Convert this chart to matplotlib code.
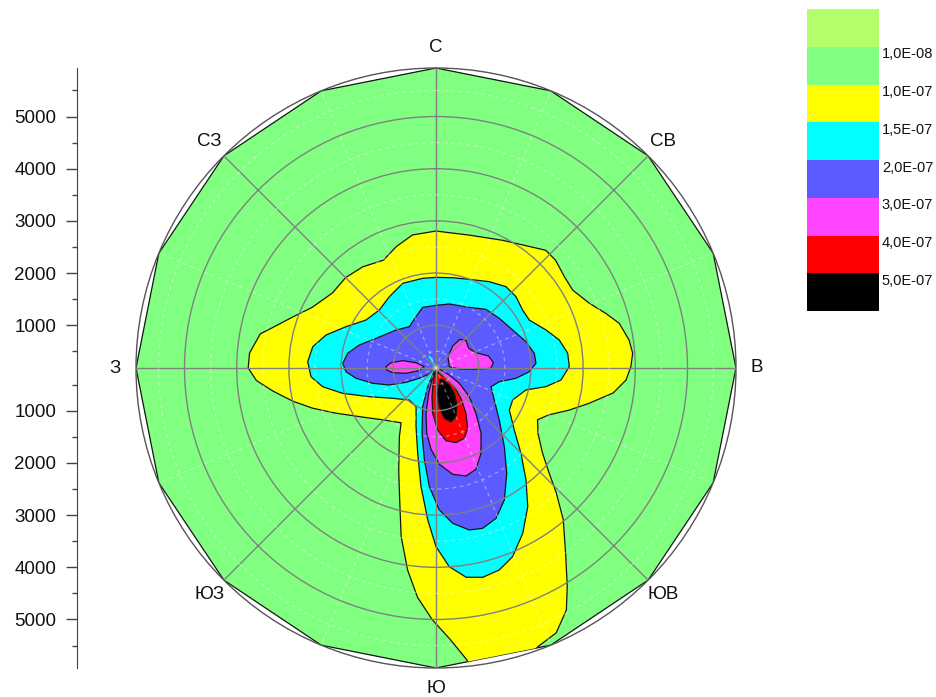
import numpy as np
import matplotlib
matplotlib.use("Agg")
import matplotlib.pyplot as plt
import matplotlib.transforms as mtransforms
from matplotlib.colors import ListedColormap, BoundaryNorm
from matplotlib.cm import ScalarMappable

plt.rcParams['font.family'] = ['Liberation Sans', 'DejaVu Sans']

# ---------------- data ----------------
LEVELS = [1e-8, 1e-7, 1.5e-7, 2e-7, 3e-7, 4e-7, 5e-7]
LEVEL_LABELS = ['1,0E-08', '1,0E-07', '1,5E-07', '2,0E-07', '3,0E-07', '4,0E-07', '5,0E-07']
LEVEL_COLORS = ['#B3FF6B', '#80FF80', '#FFFF00', '#00FFFF', '#5B5BFF', '#FF45FF', '#FF0000', '#000000']

DIRECTIONS_DEG = [0, 45, 90, 135, 180, 225, 270, 315]
DIRECTION_LABELS = ['С', 'СВ', 'В', 'ЮВ', 'Ю', 'ЮЗ', 'З', 'СЗ']
MINOR_DIRECTIONS_DEG = [22.5, 67.5, 112.5, 157.5, 202.5, 247.5, 292.5, 337.5]
RUMBS_DEG = [0, 22.5, 45, 67.5, 90, 112.5, 135, 157.5,
             180, 202.5, 225, 247.5, 270, 292.5, 315, 337.5]

R_TICKS = [1000, 2000, 3000, 4000, 5000]
R_MINOR = [500, 1500, 2500, 3500, 4500, 5500]
R_MIN, R_MAX = 180, 5930

# isoline 1,0E-07 (outer edge of yellow zone): direction (deg), distance (m)
iso100_theta = [0, 14, 27.5, 43, 48, 54.6, 60.3, 67.1, 72.2, 76.3, 81.8, 85.7, 89.6, 93.6,
                98, 103, 107.5, 112.6, 117, 122.6, 128.5, 133, 136, 140, 145, 149, 151.7,
                155.6, 160, 166, 172, 174, 177, 180.8, 184.6, 188, 191.7, 195, 200, 208,
                212.5, 225.6, 236, 245.8, 252, 257, 262, 266, 270, 274.6, 281, 284, 289.7,
                296, 306, 315, 324, 334, 342, 350]
iso100_r = [2805, 2805, 2940, 3265, 3265, 3200, 3195, 3370, 3600, 3795, 3920, 3960, 3915, 3830,
            3610, 3190, 2860, 2520, 2365, 2500, 2785, 3150, 3495, 3975, 4510, 5065, 5450,
            5755, 5870, 6300, 6300, 5800, 5390, 5010, 4590, 4090, 3475, 2860, 2270, 1675,
            1425, 1600, 1865, 2290, 2670, 3000, 3340, 3630, 3780, 3765, 3610, 3400, 3090,
            2825, 2630, 2630, 2575, 2480, 2630, 2770]

# isoline 1,5E-07 (outer edge of cyan zone)
iso150_theta = [0, 10.5, 20.6, 31.7, 40.7, 48.3, 56.2, 62.8, 70.9, 77.2, 83.6, 89.4, 95.5,
                99.6, 103.7, 112.6, 119.8, 128.4, 135.1, 141.2, 146.5, 152.3, 157.9, 162.6,
                167.4, 171.8, 176.2, 180, 183.1, 187.2, 192.1, 198.8, 207.3, 219.8, 235,
                246.7, 254.8, 260.6, 266, 272.8, 279.8, 286.7, 294.7, 304.4, 315.7, 326.8,
                338.5, 351.6]
iso150_r = [1917, 1940, 1995, 2125, 2236, 2234, 2178, 2190, 2410, 2603, 2720, 2735, 2586,
            2318, 1955, 1772, 1800, 2094, 2487, 2933, 3366, 3757, 4083, 4236,
            4290, 4232, 3995, 3604, 3096, 2472, 1853, 1368, 1013, 979, 1193,
            1571, 2033, 2380, 2581, 2642, 2577, 2380, 2077, 1807, 1734, 1813,
            1924, 1918]

# isoline 2,0E-07 (outer edge of blue zone)
iso200_theta = [0, 11.7, 28.8, 40.4, 51.9, 63.6, 73.7, 81.5, 87.3, 92.3, 97.3, 102.2, 108.8,
                118.8, 129.4, 139, 146.1, 152.6, 158.2, 163.8, 168.4, 173.9, 178.7, 183.2,
                187.2, 192.1, 199, 204, 205.5, 210, 222, 228, 238.3, 244.5, 250, 256.4,
                262.7, 267.6, 272.9, 279.5, 286.7, 296.3, 313.5, 327.1, 338.7, 347.6]
iso200_r = [1381, 1433, 1506, 1657, 1722, 1820, 1977, 2085, 2098, 1970, 1726, 1422, 1293,
            1454, 1750, 2176, 2611, 3027, 3282, 3380, 3349, 3173, 2901, 2458,
            1956, 1460, 964, 573, 328, 195, 195, 352, 555, 816, 1132, 1427,
            1726, 1906, 1970, 1895, 1715, 1462, 1237, 1123, 1236, 1370]

# small 1,5E-07 sliver next to the source (NNW)
sliver150_theta = [318, 326, 336, 345]
sliver150_r = [190, 460, 420, 190]

# isoline 3,0E-07: plume towards S-SE and two side spots
plume300_theta = [205, 200.8, 196.1, 192.4, 188.1, 183.5, 178, 171.1, 164.5, 158.5, 152.2,
                  145.4, 138.6, 130.8, 123.3, 117.8, 111.8, 108]
plume300_r = [180, 358, 686, 1069, 1445, 1741, 2027, 2242, 2328, 2267, 2029,
              1700, 1337, 1023, 715, 467, 283, 180]
spotW300_theta = [271.5, 276.7, 282.4, 284.8, 276.3, 261.1, 260, 263.8, 267.7]
spotW300_r = [1138, 1048, 833, 577, 406, 515, 764, 1015, 1125]
spotNE300_theta = [84.3, 46.7, 37.2, 39.9, 47.7, 58.9, 69, 77.2, 84.7, 90.3, 91.9, 92.5]
spotNE300_r = [437, 496, 709, 897, 958, 912, 1000, 1215, 1284, 1234, 946, 626]

# isoline 4,0E-07
plume400_theta = [195, 192.5, 187.9, 184.2, 178.5, 172.2, 165, 158.1, 152.3, 146.5, 140.5,
                  135.6, 135.8, 148, 160]
plume400_r = [180, 416, 736, 1050, 1368, 1586, 1661, 1632, 1485, 1220, 933,
              680, 456, 300, 200]

# isoline 5,0E-07
plume500_theta = [160.5, 176.2, 175.1, 170.6, 164.5, 157.7, 150.4, 144.1, 142, 148.7]
plume500_r = [410, 667, 923, 1157, 1253, 1188, 994, 780, 594, 449]

# ---------------- figure ----------------
W, H = 937, 697
fig = plt.figure(figsize=(W / 100, H / 100), dpi=100)

ax = fig.add_axes([136 / W, 29 / H, 600 / W, 600 / H], projection='polar')
ax.set_theta_zero_location('N')
ax.set_theta_direction(-1)

EDGE = '#151515'
LW = 0.9

domain = ax.fill(np.deg2rad(RUMBS_DEG), [R_MAX] * len(RUMBS_DEG),
                 facecolor=LEVEL_COLORS[1], edgecolor=EDGE, lw=LW, zorder=1.0)[0]


def zone(theta_deg, r, color, z):
    for p in ax.fill(np.deg2rad(theta_deg), r, facecolor=color,
                     edgecolor=EDGE, lw=LW, zorder=z):
        p.set_clip_path(domain)


zone(iso100_theta, iso100_r, LEVEL_COLORS[2], 1.1)
zone(iso150_theta, iso150_r, LEVEL_COLORS[3], 1.2)
zone(iso200_theta, iso200_r, LEVEL_COLORS[4], 1.3)
for p in ax.fill(np.deg2rad(sliver150_theta), sliver150_r, facecolor=LEVEL_COLORS[3],
                 edgecolor='none', zorder=1.35):
    p.set_clip_path(domain)
zone(plume300_theta, plume300_r, LEVEL_COLORS[5], 1.4)
zone(spotW300_theta, spotW300_r, LEVEL_COLORS[5], 1.4)
zone(spotNE300_theta, spotNE300_r, LEVEL_COLORS[5], 1.4)
zone(plume400_theta, plume400_r, LEVEL_COLORS[6], 1.5)
zone(plume500_theta, plume500_r, LEVEL_COLORS[7], 1.6)

ax.set_xticks(np.deg2rad(DIRECTIONS_DEG))
ax.set_xticklabels(DIRECTION_LABELS, fontsize=13.5, color='#111111')
ax.set_xticks(np.deg2rad(MINOR_DIRECTIONS_DEG), minor=True)
ax.set_yticks(R_TICKS)
ax.set_yticklabels([])
ax.set_yticks(R_MINOR, minor=True)
ax.grid(which='major', color='#808080', lw=1.0, ls='-')
ax.grid(which='minor', color='white', lw=0.9, ls=(0, (3, 3)), alpha=0.4)
ax.tick_params(axis='x', which='both', length=0, pad=8)
ax.tick_params(axis='y', which='both', length=0)
ax.set_axisbelow(False)
ax.spines['polar'].set_color('#555555')
ax.spines['polar'].set_linewidth(1.0)
ax.set_rlim(R_MIN, R_MAX)

# ---------------- radial scale on the left ----------------
ax2 = fig.add_axes([77 / W, 29 / H, 0.0001, 600 / H])
ax2.set_ylim(-(R_MAX - R_MIN), R_MAX - R_MIN)
for s in ['top', 'right', 'bottom']:
    ax2.spines[s].set_visible(False)
ax2.spines['left'].set_color('#444444')
ax2.patch.set_visible(False)
ax2.set_xticks([])
major_pos = [r - R_MIN for r in R_TICKS]
minor_pos = [r - R_MIN for r in R_MINOR]
ax2.set_yticks(major_pos + [-p for p in major_pos])
ax2.set_yticklabels([str(r) for r in R_TICKS] * 2)
ax2.set_yticks(minor_pos + [-p for p in minor_pos], minor=True)
ax2.tick_params(axis='y', which='major', length=8, width=1, pad=7,
                labelsize=13.5, color='#444444', labelcolor='#111111')
ax2.tick_params(axis='y', which='minor', length=3.3, width=1, color='#444444')

# ---------------- legend (colour scale) ----------------
cax = fig.add_axes([807 / W, (H - 311) / H, 72 / W, 302 / H])
cmap = ListedColormap(LEVEL_COLORS)
bounds = [0.0] + LEVELS + [6e-7]
norm = BoundaryNorm(bounds, cmap.N)
cb = fig.colorbar(ScalarMappable(norm=norm, cmap=cmap), cax=cax,
                  ticks=LEVELS, spacing='uniform')
cb.outline.set_visible(False)
cax.invert_yaxis()
cb.set_ticklabels([])
cax.minorticks_off()
cax.tick_params(which='both', length=0)
label_tr = (mtransforms.blended_transform_factory(cax.transAxes, cax.transData)
            + mtransforms.ScaledTranslation(2 / 72, -5.5 / 72, fig.dpi_scale_trans))
for lvl, txt in zip(LEVELS, LEVEL_LABELS):
    cax.text(1.0, lvl, txt, transform=label_tr, ha='left', va='center',
             fontsize=10.5, color='#111111', clip_on=False)

fig.savefig('out.png', dpi=100)
